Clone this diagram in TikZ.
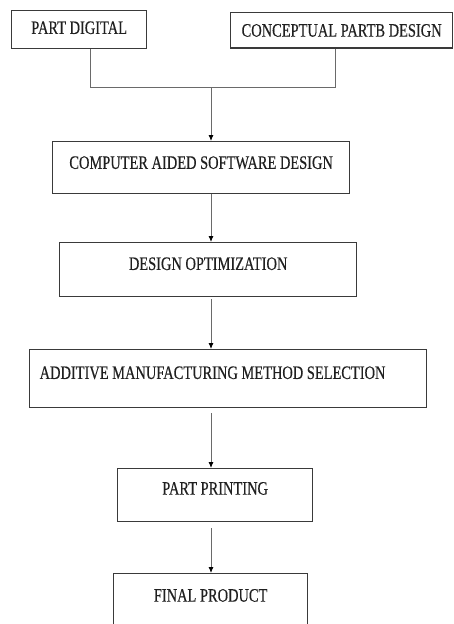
\documentclass[tikz,border=0pt]{standalone}
\usepackage{fontspec}
\setmainfont{Liberation Serif}[FakeStretch=0.76,FakeBold=0.35]
\usetikzlibrary{arrows.meta,calc}
\definecolor{boxline}{HTML}{3A3A3A}
\definecolor{connline}{HTML}{6A6A6A}
\definecolor{txt}{HTML}{202020}
\tikzset{
  box/.style={draw=boxline, line width=1.3pt, rectangle, inner ysep=0pt, inner xsep=4pt,
    anchor=north west, text=txt, font=\fontsize{19}{21}\selectfont},
  conn/.style={draw=connline, line width=0.9pt},
  arr/.style={conn, -{Latex[length=6pt,width=5pt,black]}},
}
\begin{document}
\begin{tikzpicture}[x=1pt,y=-1pt]
\useasboundingbox (0,0) rectangle (453,624);
\clip (0,0) rectangle (453,624);
\fill[white] (0,0) rectangle (453,624);

\node[box, minimum width=135pt, text height=23.3pt, text depth=14.4pt] (pd) at (11,10) {PART DIGITAL};
\node[box, minimum width=222pt, text height=24pt, text depth=11.3pt] (cp) at (230,12) {CONCEPTUAL PARTB DESIGN};
\node[box, minimum width=297pt, text height=27.2pt, text depth=24.8pt] (casd) at (52,141) {COMPUTER AIDED SOFTWARE DESIGN};
\node[box, minimum width=297pt, text height=27.3pt, text depth=26.7pt] (dopt) at (59,242) {DESIGN OPTIMIZATION};
\node[box, inner xsep=10pt, text height=29.3pt, text depth=28.7pt] (amms) at (29,349) {\makebox[377pt][l]{ADDITIVE MANUFACTURING METHOD SELECTION}};
\node[box, minimum width=195pt, text height=26pt, text depth=27pt] (pp) at (117,468) {PART PRINTING};
\node[box, minimum width=194pt, text height=28pt, text depth=30pt] (fp) at (113,573) {FINAL PRODUCT};

\coordinate (j) at (211,87);

\draw[conn] ([xshift=11.5pt]pd.south) |- (j);
\draw[conn] ([xshift=-6pt]cp.south) |- (j);
\draw[arr] (j) -- (j |- casd.north);
\draw[arr] (casd.south -| j) -- (dopt.north -| j);
\draw[arr, shorten <=2pt] (dopt.south -| j) -- (amms.north -| j);
\draw[arr, shorten <=5pt] (amms.south -| j) -- (pp.north -| j);
\draw[arr, shorten <=6pt] (pp.south -| j) -- (fp.north -| j);
\end{tikzpicture}
\end{document}
